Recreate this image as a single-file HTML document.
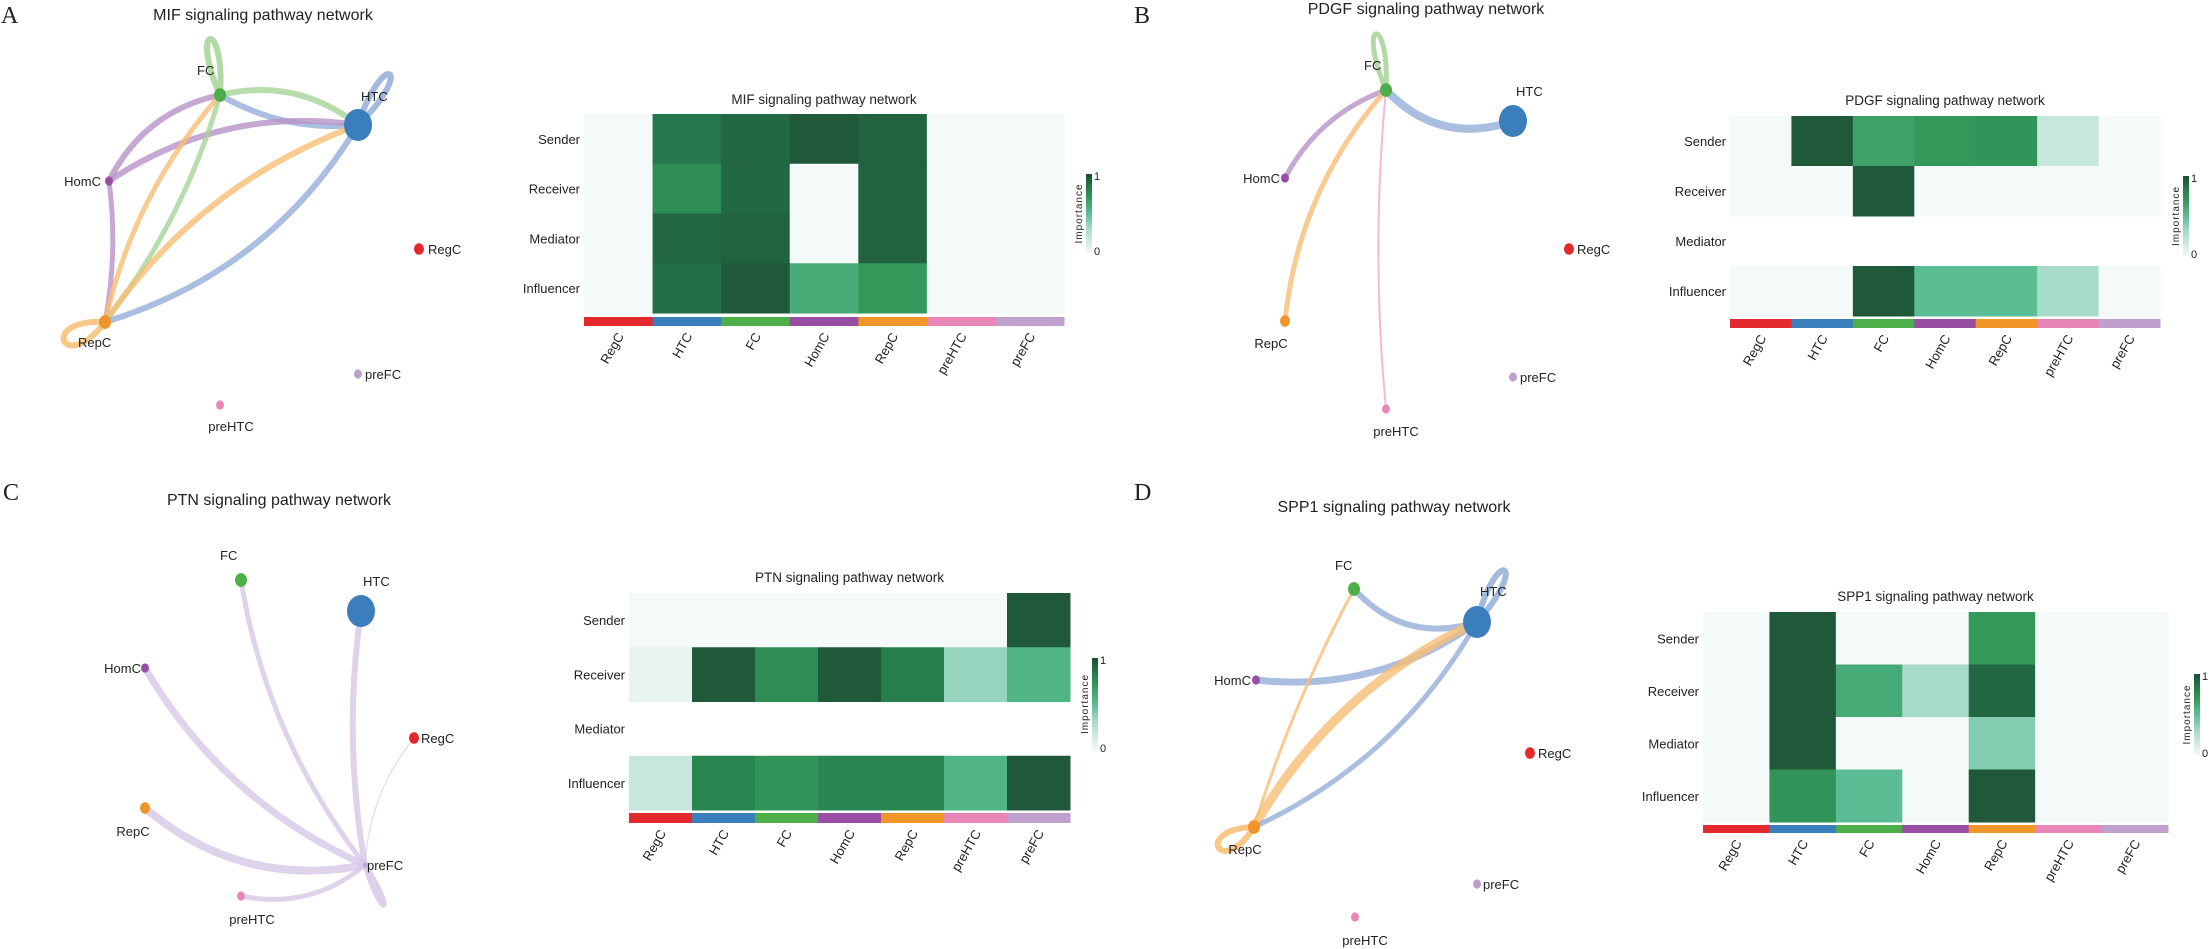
<!DOCTYPE html>
<html><head><meta charset="utf-8"><title>Signaling pathway networks</title>
<style>
html,body{margin:0;padding:0;background:#fff;}
svg{display:block;font-family:"Liberation Sans",sans-serif;}
</style></head>
<body>
<svg id="fig" width="2210" height="949" viewBox="0 0 2210 949" xmlns="http://www.w3.org/2000/svg">
<defs>
<linearGradient id="cbar" x1="0" y1="1" x2="0" y2="0">
<stop offset="0" stop-color="#f4f9f9"/><stop offset="0.3" stop-color="#a9dbcb"/><stop offset="0.5" stop-color="#5bbd93"/><stop offset="0.7" stop-color="#33985a"/><stop offset="0.85" stop-color="#23774a"/><stop offset="1" stop-color="#1f4a32"/>
</linearGradient>
</defs>
<g font-family="Liberation Serif, serif" font-size="24" fill="#222">
<text x="1" y="23">A</text>
<text x="1134" y="23">B</text>
<text x="3" y="500">C</text>
<text x="1134" y="500">D</text>
</g>
</svg>
<script>
const categories = ['RegC','HTC','FC','HomC','RepC','preHTC','preFC'];
const roles = ['Sender','Receiver','Mediator','Influencer'];
const mifSender = [0,0.85,0.9,0.95,0.92,0,0];
const mifReceiver = [0,0.75,0.9,0,0.92,0,0];
const mifMediator = [0,0.9,0.92,0,0.92,0,0];
const mifInfluencer = [0,0.88,0.95,0.6,0.7,0,0];
const pdgfSender = [0,0.95,0.65,0.7,0.72,0.18,0];
const pdgfReceiver = [0,0,0.95,0,0,0,0];
const pdgfMediator = [null,null,null,null,null,null,null];
const pdgfInfluencer = [0,0,0.95,0.5,0.5,0.3,0];
const ptnSender = [0,0,0,0,0,0,0.95];
const ptnReceiver = [0.05,0.95,0.75,0.95,0.82,0.35,0.55];
const ptnMediator = [null,null,null,null,null,null,null];
const ptnInfluencer = [0.18,0.78,0.72,0.78,0.78,0.55,0.95];
const spp1Sender = [0,0.95,0,0,0.7,0,0];
const spp1Receiver = [0,0.95,0.6,0.3,0.9,0,0];
const spp1Mediator = [0,0.95,0,0,0.4,0,0];
const spp1Influencer = [0,0.72,0.5,0,0.95,0,0];
// network edges: [source, target, curvature, kind, width]
const mifEdges = [['FC','HTC',0.15,'FC',6],['FC','HTC',-0.1,'HTC',6],['HomC','FC',0.15,'HomC',6],['HomC','HTC',0.12,'HomC',6],['HomC','RepC',0.05,'HomC',5],['RepC','FC',0.08,'RepC',5],['RepC','FC',-0.06,'FC',5],['RepC','HTC',0.1,'RepC',6],['RepC','HTC',-0.12,'HTC',6]];
const mifLoops = [['FC','FC',6],['HTC','HTC',6],['RepC','RepC',6]];
const pdgfEdges = [['FC','HTC',-0.2,'HTC',8],['HomC','FC',0.12,'HomC',5],['RepC','FC',0.1,'RepC',5],['preHTC','FC',0.03,'preHTC',2]];
const pdgfLoops = [['FC','FC',5]];
const ptnEdges = [['FC','preFC',-0.08,'preFC',5],['HTC','preFC',-0.05,'preFC',6],['HomC','preFC',-0.1,'preFC',7],['RepC','preFC',-0.15,'preFC',8],['preHTC','preFC',-0.15,'preFC',5],['RegC','preFC',-0.1,'preFC',1]];
const ptnLoops = [['preFC','preFC',5]];
const spp1Edges = [['FC','HTC',-0.2,'HTC',6],['HomC','HTC',-0.12,'HTC',7],['RepC','HTC',0.1,'RepC',9],['RepC','HTC',-0.1,'HTC',5],['RepC','FC',0.03,'RepC',3]];
const spp1Loops = [['HTC','HTC',6],['RepC','RepC',6]];

const NS='http://www.w3.org/2000/svg';
const svg=document.getElementById('fig');
const nodeCol={RegC:'#e3292e',HTC:'#3a7fbc',FC:'#4daf4a',HomC:'#984ea3',RepC:'#f0952a',preHTC:'#e887b7',preFC:'#bf9fcc'};
const edgeCol={RegC:'#ee8a8c',HTC:'#93aed8',FC:'#a6d497',HomC:'#b793c8',RepC:'#f7be74',preHTC:'#f0a8cc',preFC:'#d6c8e6'};
function mk(tag,attrs,parent){const e=document.createElementNS(NS,tag);for(const k in attrs)e.setAttribute(k,attrs[k]);(parent||svg).appendChild(e);return e;}
const stops=[[0,[244,249,249]],[0.3,[169,219,203]],[0.5,[91,189,147]],[0.7,[51,152,90]],[0.85,[35,119,74]],[1,[31,74,50]]];
function colorFor(v){for(let i=1;i<stops.length;i++){if(v<=stops[i][0]){const a=stops[i-1],b=stops[i];const t=(v-a[0])/(b[0]-a[0]);const c=a[1].map((x,j)=>Math.round(x+(b[1][j]-x)*t));return 'rgb('+c.join(',')+')';}}return 'rgb(31,74,50)';}

function heatmap(cfg){
  const g=mk('g',{});
  
  
  const cw=(cfg.x1-cfg.x0)/categories.length, rh=(cfg.y1-cfg.y0)/roles.length;
  const t=mk('text',{x:(cfg.x0+cfg.x1)/2,y:cfg.ty,'text-anchor':'middle','font-size':13.5,fill:'#222'},g);
  t.textContent=cfg.title;
  
  
  cfg.rows.forEach((row,ri)=>{
    const lab=mk('text',{x:cfg.x0-4,y:cfg.y0+rh*ri+rh/2+5,'text-anchor':'end','font-size':13,fill:'#222'},g);
    lab.textContent=roles[ri];
    
    
    row.forEach((v,ci)=>{
      if(v===null) return;
      const r=mk('rect',{x:cfg.x0+cw*ci,y:cfg.y0+rh*ri,width:cw+0.5,height:rh+0.5,fill:colorFor(v)},g);
      
      
    });
  });
  categories.forEach((c,ci)=>{
    const s=mk('rect',{x:cfg.x0+cw*ci,y:cfg.sy0,width:cw+0.5,height:cfg.sy1-cfg.sy0,fill:nodeCol[c]},g);
    
    
    const cx=cfg.x0+cw*ci+cw/2+6, cy=cfg.sy1+10;
    const l=mk('text',{x:cx,y:cy,'text-anchor':'end','font-size':13,fill:'#222',transform:'rotate(-60 '+cx+' '+cy+')'},g);
    l.textContent=c;
    
    
  });
  const cb=mk('rect',{x:cfg.cbx,y:cfg.cby0,width:6,height:cfg.cby1-cfg.cby0,fill:'url(#cbar)'},g);
  
  
  const t1=mk('text',{x:cfg.cbx+8,y:cfg.cby0+6,'font-size':11,fill:'#222'},g);t1.textContent='1';
  
  
  const t0=mk('text',{x:cfg.cbx+8,y:cfg.cby1+2,'font-size':11,fill:'#222'},g);t0.textContent='0';
  
  
  const mx=cfg.cbx-4, my=(cfg.cby0+cfg.cby1)/2;
  const it=mk('text',{x:mx,y:my,'text-anchor':'middle','font-size':10,'letter-spacing':'1',fill:'#222',transform:'rotate(-90 '+mx+' '+my+')'},g);
  it.textContent='Importance';
  
  
}

function network(cfg){
  const g=mk('g',{});
  
  
  const t=mk('text',{x:cfg.tx,y:cfg.ty,'text-anchor':'middle','font-size':16,fill:'#222'},g);
  t.textContent=cfg.title;
  
  
  const P=cfg.nodes;
  cfg.loops.forEach(lp=>{
    const n=P[lp[0]], a=cfg.loopDir[lp[0]], L=a[1], sp=a[2]||15;
    const a1=(a[0]-sp)*Math.PI/180, a2=(a[0]+sp)*Math.PI/180;
    const d='M'+n[0]+' '+n[1]+' C'+(n[0]+L*Math.cos(a1))+' '+(n[1]+L*Math.sin(a1))+' '+(n[0]+L*Math.cos(a2))+' '+(n[1]+L*Math.sin(a2))+' '+n[0]+' '+n[1];
    const p=mk('path',{d:d,fill:'none',stroke:edgeCol[lp[0]],'stroke-width':lp[2],'stroke-opacity':0.85},g);
    
    
  });
  cfg.edges.forEach(e=>{
    const a=P[e[0]], b=P[e[1]];
    const dx=b[0]-a[0], dy=b[1]-a[1];
    const cx=(a[0]+b[0])/2+dy*e[2]*1.6, cy=(a[1]+b[1])/2-dx*e[2]*1.6;
    const p=mk('path',{d:'M'+a[0]+' '+a[1]+' Q'+cx+' '+cy+' '+b[0]+' '+b[1],fill:'none',stroke:edgeCol[e[3]],'stroke-width':e[4],'stroke-opacity':0.8,'stroke-linecap':'round'},g);
    
    
  });
  for(const k in P){
    const n=P[k];
    const big=(k==='HTC');
    const c=mk('ellipse',{cx:n[0],cy:n[1],rx:big?14:n[2],ry:big?16:n[2]*1.15,fill:nodeCol[k]},g);
    
    
    const lb=cfg.labels[k];
    const tx=mk('text',{x:lb[0],y:lb[1],'text-anchor':lb[2]||'start','font-size':13,fill:'#222'},g);
    tx.textContent=k;
    
    
  }
}

network({name:'mif',title:'MIF signaling pathway network',tx:263,ty:20,
 nodes:{RegC:[419,249,5],HTC:[358,125,14],FC:[220,95,6],HomC:[109,181,4],RepC:[105,322,6],preHTC:[220,405,4],preFC:[358,374,4]},
 labels:{RegC:[428,254],HTC:[361,101],FC:[197,75],HomC:[101,186,'end'],RepC:[78,347],preHTC:[231,431,'middle'],preFC:[365,379]},
 loopDir:{FC:[-100,78,14],HTC:[-58,82,14],RepC:[155,68,28]},edges:mifEdges,loops:mifLoops});
heatmap({name:'mif',title:'MIF signaling pathway network',x0:584,x1:1064,y0:114,y1:313,sy0:317,sy1:326,ty:104,rows:[mifSender,mifReceiver,mifMediator,mifInfluencer],cbx:1086,cby0:174,cby1:253});

network({name:'pdgf',title:'PDGF signaling pathway network',tx:1426,ty:14,
 nodes:{RegC:[1569,249,5],HTC:[1513,121,14],FC:[1386,90,6],HomC:[1285,178,4],RepC:[1285,321,5],preHTC:[1386,409,4],preFC:[1513,377,4]},
 labels:{RegC:[1577,254],HTC:[1516,96],FC:[1364,70],HomC:[1280,183,'end'],RepC:[1271,348,'middle'],preHTC:[1396,436,'middle'],preFC:[1520,382]},
 loopDir:{FC:[-100,78,13]},edges:pdgfEdges,loops:pdgfLoops});
heatmap({name:'pdgf',title:'PDGF signaling pathway network',x0:1730,x1:2160,y0:116,y1:316,sy0:319,sy1:328,ty:105,rows:[pdgfSender,pdgfReceiver,pdgfMediator,pdgfInfluencer],cbx:2183,cby0:176,cby1:256});

network({name:'ptn',title:'PTN signaling pathway network',tx:279,ty:505,
 nodes:{RegC:[414,738,5],HTC:[361,611,14],FC:[241,580,6],HomC:[145,668,4],RepC:[145,808,5],preHTC:[241,896,4],preFC:[365,865,2]},
 labels:{RegC:[421,743],HTC:[363,586],FC:[220,560],HomC:[141,673,'end'],RepC:[133,836,'middle'],preHTC:[252,924,'middle'],preFC:[367,870]},
 loopDir:{preFC:[65,60,8]},edges:ptnEdges,loops:ptnLoops});
heatmap({name:'ptn',title:'PTN signaling pathway network',x0:629,x1:1070,y0:593,y1:810,sy0:813,sy1:823,ty:582,rows:[ptnSender,ptnReceiver,ptnMediator,ptnInfluencer],cbx:1092,cby0:658,cby1:750});

network({name:'spp1',title:'SPP1 signaling pathway network',tx:1394,ty:512,
 nodes:{RegC:[1530,753,5],HTC:[1477,622,14],FC:[1354,589,6],HomC:[1256,680,4],RepC:[1254,827,6],preHTC:[1355,917,4],preFC:[1477,884,4]},
 labels:{RegC:[1538,758],HTC:[1480,596],FC:[1335,570],HomC:[1251,685,'end'],RepC:[1245,854,'middle'],preHTC:[1365,945,'middle'],preFC:[1483,889]},
 loopDir:{HTC:[-62,80,14],RepC:[150,62,28]},edges:spp1Edges,loops:spp1Loops});
heatmap({name:'spp1',title:'SPP1 signaling pathway network',x0:1703,x1:2168,y0:612,y1:822,sy0:825,sy1:833,ty:601,rows:[spp1Sender,spp1Receiver,spp1Mediator,spp1Influencer],cbx:2194,cby0:674,cby1:755});
</script>
</body></html>
